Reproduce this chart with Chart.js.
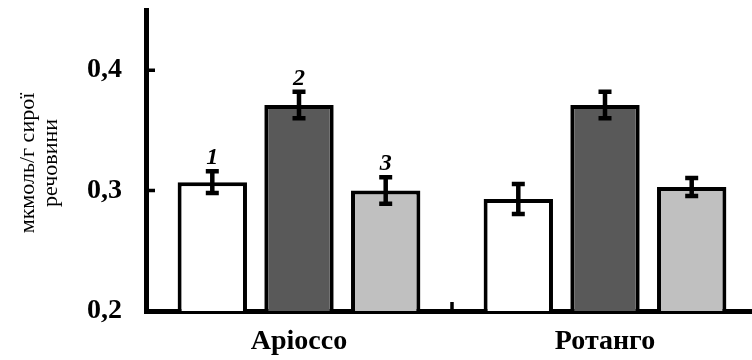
<!DOCTYPE html>
<html>
<head>
<meta charset="utf-8">
<script src="https://cdn.jsdelivr.net/npm/chart.js@4"></script>
<style>
  html, body { margin: 0; padding: 0; background: #fff; overflow: hidden; }
  #wrap { width: 760px; height: 360px; }
</style>
</head>
<body>
<div id="wrap"><canvas id="chart" width="760" height="360"></canvas></div>
<script>
// Data
const categories = ['Аріоссо', 'Ротанго'];
const seriesLabels = ['1', '2', '3'];
const values1 = [0.307, 0.293];
const values2 = [0.371, 0.371];
const values3 = [0.300, 0.303];
const errors1 = [0.009, 0.0125];
const errors2 = [0.011, 0.011];
const errors3 = [0.011, 0.0075];
const yTicks = [0.2, 0.3, 0.4];
const yTitle = ['мкмоль/г сирої', 'речовини'];

const colors = ['#ffffff', '#595959', '#c0c0c0'];
const serif = '"Liberation Serif", "Times New Roman", serif';

// error bars + inward ticks + series numbers + y title
const extras = {
  id: 'extras',
  afterDatasetsDraw(chart) {
    const ctx = chart.ctx;
    const y = chart.scales.y;
    const x = chart.scales.x;
    const area = chart.chartArea;
    ctx.save();
    ctx.strokeStyle = '#000';
    ctx.fillStyle = '#000';

    chart.data.datasets.forEach((ds, di) => {
      const meta = chart.getDatasetMeta(di);
      meta.data.forEach((bar, i) => {
        const v = ds.data[i];
        const e = ds.errors[i];
        const top = y.getPixelForValue(v + e);
        const bot = y.getPixelForValue(v - e);
        ctx.lineWidth = 4.5;
        ctx.beginPath();
        ctx.moveTo(bar.x, top);
        ctx.lineTo(bar.x, bot);
        ctx.moveTo(bar.x - 6.5, top);
        ctx.lineTo(bar.x + 6.5, top);
        ctx.moveTo(bar.x - 6.5, bot);
        ctx.lineTo(bar.x + 6.5, bot);
        ctx.stroke();
        // numbers only over first group
        if (i === 0) {
          ctx.font = 'italic bold 24px ' + serif;
          ctx.textAlign = 'center';
          ctx.textBaseline = 'alphabetic';
          ctx.fillText(seriesLabels[di], bar.x, top - 7);
        }
      });
    });

    // inward ticks on y axis
    ctx.lineWidth = 4;
    ctx.beginPath();
    yTicks.slice(1).forEach(t => {
      const py = y.getPixelForValue(t);
      ctx.moveTo(area.left, py);
      ctx.lineTo(area.left + 9, py);
    });
    // category separator tick
    const sx = (x.getPixelForValue(0) + x.getPixelForValue(1)) / 2;
    ctx.lineWidth = 3.5;
    ctx.moveTo(sx, area.bottom);
    ctx.lineTo(sx, area.bottom - 9);
    ctx.stroke();

    // y title
    ctx.font = '22px ' + serif;
    ctx.textAlign = 'center';
    ctx.textBaseline = 'alphabetic';
    ctx.translate(0, 163);
    ctx.rotate(-Math.PI / 2);
    ctx.fillText(yTitle[0], 0, 34);
    ctx.fillText(yTitle[1], 0, 57);
    ctx.restore();
  }
};

new Chart(document.getElementById('chart'), {
  type: 'bar',
  data: {
    labels: categories,
    datasets: [
      { data: values1, errors: errors1, backgroundColor: colors[0] },
      { data: values2, errors: errors2, backgroundColor: colors[1] },
      { data: values3, errors: errors3, backgroundColor: colors[2] }
    ].map(d => Object.assign(d, {
      borderColor: '#000',
      borderWidth: 4,
      barPercentage: 0.8,
      categoryPercentage: 0.85
    }))
  },
  options: {
    responsive: false,
    animation: false,
    events: [],
    layout: { padding: { top: 10, right: 2, left: 0, bottom: 0 } },
    plugins: { legend: { display: false }, tooltip: { enabled: false } },
    scales: {
      x: {
        grid: { display: false, drawTicks: false },
        border: { display: true, color: '#000', width: 5 },
        ticks: {
          color: '#000',
          padding: 14,
          font: { family: serif, size: 28, weight: 'bold' }
        },
        afterFit(scale) {
          scale.height = 49;
          scale.paddingLeft = 0;
          scale.paddingRight = 0;
        }
      },
      y: {
        min: 0.2,
        max: 0.45,
        grid: { display: false, drawTicks: false },
        border: { display: true, color: '#000', width: 5 },
        afterBuildTicks(scale) { scale.ticks = yTicks.map(v => ({ value: v })); },
        ticks: {
          color: '#000',
          padding: 24,
          font: { family: serif, size: 28, weight: 'bold' },
          callback: v => v.toFixed(1).replace('.', ',')
        },
        afterFit(scale) {
          scale.width = 146;
          scale.paddingTop = 0;
          scale.paddingBottom = 0;
        }
      }
    }
  },
  plugins: [extras]
});
</script>
</body>
</html>
